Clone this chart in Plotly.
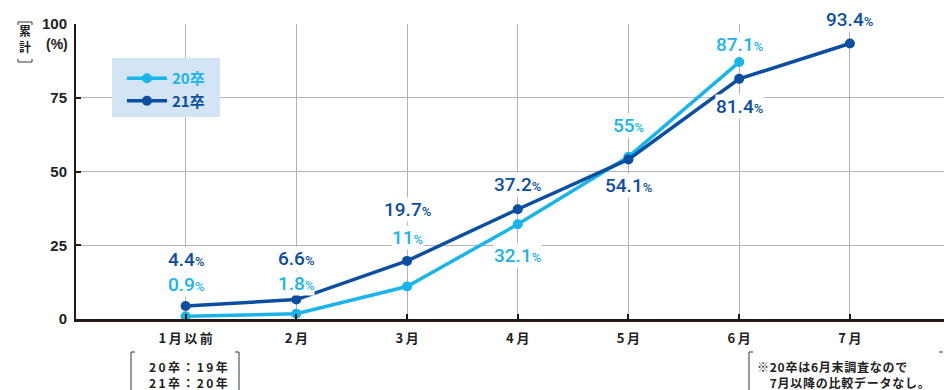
import plotly.graph_objects as go

categories = ["1月以前", "2月", "3月", "4月", "5月", "6月", "7月"]
y20 = [0.9, 1.8, 11, 32.1, 55, 87.1]
y21 = [4.4, 6.6, 19.7, 37.2, 54.1, 81.4, 93.4]
y_ticks = [0, 25, 50, 75, 100]
name20 = "20卒"
name21 = "21卒"
note_left = ["20卒：19年", "21卒：20年"]
note_right = ["※20卒は6月末調査なので", "　7月以降の比較データなし。"]
axis_title = ["累", "計"]

C20 = "#19b4ea"
C21 = "#0b4ea2"

# label pixel offsets (style)
shift20 = [32, 30, 49, -31, 31, 18]
shift21 = [47, 41, 51, 25, -26, -28, 24]

W, H = 944, 390
L, R, T, B = 76, 0, 24, 71
PW, PH = W - L - R, H - T - B

def px(x):
    return (x - L) / PW

def py(y):
    return (H - B - y) / PH

NUMF = "Roboto, DejaVu Sans, sans-serif"
JPF = "Noto Sans CJK JP, sans-serif"

def spaced(s, sep="&#8201;"):
    return sep.join(s)

fig = go.Figure()
fig.add_trace(go.Scatter(
    x=list(range(len(y20))), y=y20, mode="lines+markers", name=f"<span style='color:{C20}'><b>{name20}</b></span>",
    line=dict(color=C20, width=3.5), marker=dict(size=10, color=C20), cliponaxis=False))
fig.add_trace(go.Scatter(
    x=list(range(len(y21))), y=y21, mode="lines+markers", name=f"<span style='color:{C21}'><b>{name21}</b></span>",
    line=dict(color=C21, width=3.5), marker=dict(size=10, color=C21), cliponaxis=False))

def lab(v):
    s = f"{v:g}"
    return f"{s}<span style='font-size:13px'>%</span>"

anns = []
for i, v in enumerate(y20):
    anns.append(dict(x=i, y=v, xref="x", yref="y", text=lab(v), showarrow=False,
                     xanchor="center", yanchor="middle",
                     yshift=shift20[i], font=dict(family=NUMF, size=19, color=C20, weight=500),
                     bgcolor="white", borderpad=0))
for i, v in enumerate(y21):
    anns.append(dict(x=i, y=v, xref="x", yref="y", text=lab(v), showarrow=False,
                     xanchor="center", yanchor="middle",
                     yshift=shift21[i], font=dict(family=NUMF, size=19, color=C21, weight=500),
                     bgcolor="white", borderpad=0))

def note(x, y, text, size, family, xanchor="center", align="center"):
    return dict(x=px(x), y=py(y), xref="paper", yref="paper", text=text, showarrow=False,
                xanchor=xanchor, yanchor="middle", align=align, borderpad=0,
                font=dict(family=family, size=size, color="#222"))

anns.append(note(57, 44, "<b>(%)</b>", 14, "Liberation Sans, Arial"))
for k, ch in enumerate(axis_title):
    anns.append(note(25, 30 + 16 * k, f"<b>{ch}</b>", 12, JPF))
for k, line in enumerate(note_left):
    anns.append(note(188, 366 + 16 * k, f"<b>{spaced(line)}</b>", 12, JPF))
for k, line in enumerate(note_right):
    anns.append(note(756, 366 + 16 * k, f"<b>{spaced(line, '&#8202;')}</b>", 12, JPF, xanchor="left", align="left"))

def seg(x0, y0, x1, y1, color="#555", w=1.2):
    return dict(type="line", xref="paper", yref="paper", x0=px(x0), y0=py(y0), x1=px(x1), y1=py(y1),
                line=dict(color=color, width=w), layer="above")

shapes = [
    # legend box
    dict(type="rect", xref="paper", yref="paper", x0=px(112), x1=px(220), y0=py(117), y1=py(58),
         fillcolor="#d3e5f5", line=dict(width=0), layer="above"),
    # [累計] bracket
    seg(18, 22, 32, 22), seg(18, 22, 18, 25), seg(32, 22, 32, 25),
    seg(18, 62, 32, 62), seg(18, 62, 18, 59), seg(32, 62, 32, 59),
    # left note bracket
    seg(131, 352, 131, 390), seg(131, 352, 135, 352),
    seg(239, 352, 239, 390), seg(239, 352, 235, 352),
    # right note bracket
    seg(749, 352, 749, 390), seg(749, 352, 753, 352),
    seg(943, 352, 939, 352),
]

fig.update_layout(
    width=W, height=H, margin=dict(l=L, r=R, t=T, b=B),
    paper_bgcolor="white", plot_bgcolor="white",
    showlegend=True,
    legend=dict(x=px(122), y=py(62), xanchor="left", yanchor="top", bgcolor="rgba(0,0,0,0)",
                font=dict(family=JPF, size=15), tracegroupgap=0, itemwidth=40),
    annotations=anns, shapes=shapes,
    xaxis=dict(
        type="linear", range=[-0.99, 6.85], tickmode="array", tickvals=list(range(len(categories))),
        ticktext=[f"<b>{'&#8201;'.join(c)}</b>" for c in categories],
        showgrid=True, gridcolor="#b3b3b3", gridwidth=1, zeroline=False,
        showline=True, linecolor="#231815", linewidth=2.5,
        ticks="inside", ticklen=5, tickcolor="#231815", tickwidth=1.5,
        tickfont=dict(family=JPF, size=13, color="#222"), ticklabelstandoff=6,
    ),
    yaxis=dict(
        range=[0, 100], tickmode="array", tickvals=y_ticks, ticktext=[f"<b>{t}</b>" for t in y_ticks],
        showgrid=True, gridcolor="#b3b3b3", gridwidth=1, zeroline=False,
        showline=True, linecolor="#231815", linewidth=2,
        ticks="inside", ticklen=5, tickcolor="#231815", tickwidth=1.5,
        tickfont=dict(family="Liberation Sans, Arial", size=15, color="#222"), ticklabelstandoff=4,
    ),
)

fig.write_html("out.html")
